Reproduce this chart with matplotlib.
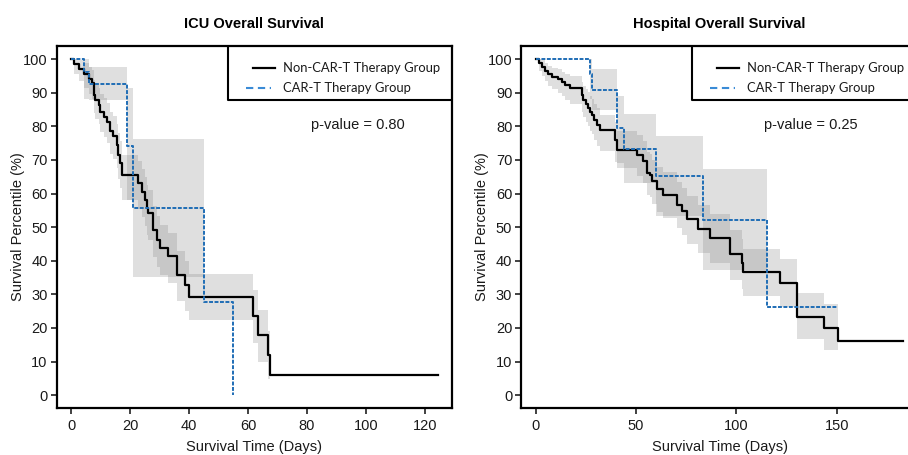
import matplotlib
matplotlib.use("Agg")
import matplotlib.pyplot as plt

# ICU survival, non-CAR-T group (days, % surviving, lower / upper band)
icu_t = [0, 1.0, 2.5, 4.5, 6.0, 7.0, 7.6, 8.1, 9.3, 9.8, 11.0, 12.1, 13.2, 14.3, 15.5, 16.0, 16.6, 17.2,
         22.8, 24.0, 25.1, 25.7, 26.2, 27.9, 29.0, 30.2, 33.0, 35.8, 38.6, 39.8, 61.8, 63.5, 66.9, 67.5]
icu_s = [100, 98.5, 97.1, 95.6, 94.1, 92.9, 89.4, 87.9, 86.4, 84.4, 82.9, 81.4, 78.5, 77.0, 74.5, 71.5, 69.0, 65.6,
         63.1, 60.6, 58.1, 55.7, 54.2, 49.2, 46.2, 43.7, 41.3, 35.8, 32.8, 29.3, 23.6, 17.9, 12.0, 6.0]
icu_lo = [100, 95.6, 93.5, 91.5, 89.5, 88.0, 84.0, 82.3, 80.6, 78.4, 76.7, 75.0, 71.9, 70.2, 67.5, 64.3, 61.7, 58.2,
          55.5, 52.9, 50.3, 47.8, 46.2, 41.2, 38.2, 35.7, 33.3, 28.0, 25.2, 22.3, 15.5, 10.0, 4.8, 6.0]
icu_hi = [100, 100, 99.7, 98.8, 97.6, 96.7, 93.8, 92.6, 91.3, 89.6, 88.3, 87.0, 84.3, 83.0, 80.7, 78.0, 75.6, 71.5,
          69.7, 67.3, 64.9, 62.6, 61.1, 56.2, 53.2, 50.7, 48.3, 42.8, 39.8, 36.0, 31.3, 25.4, 19.0, 6.0]
icu_end = 124.5

# ICU survival, CAR-T group
icu_car_t = [0, 4.2, 6.2, 18.9, 20.9, 45.0, 54.8]
icu_car_s = [100, 96.3, 92.6, 74.1, 55.6, 27.8, 0]
icu_car_lo = [100, 88.0, 87.9, 58.0, 35.1, 27.8, 0]
icu_car_hi = [100, 100, 97.8, 91.4, 76.2, 27.8, 0]

# hospital survival, non-CAR-T group
hos_t = [0, 1.5, 3.0, 4.5, 6.0, 8.0, 11.3, 13.0, 14.6, 17.1, 22.9, 23.7, 25.1, 26.2, 27.1, 27.9, 29.0, 30.4, 32.0,
         39.5, 40.4, 50.7, 53.6, 55.3, 57.0, 57.8, 60.3, 63.6, 70.3, 72.7, 75.2, 81.0, 86.8, 96.8, 102.6, 103.4,
         121.8, 130.4, 143.7, 150.7]
hos_s = [100, 98.9, 97.8, 96.6, 95.5, 94.8, 94.0, 93.1, 92.3, 91.3, 89.3, 87.8, 86.6, 85.6, 84.3, 83.3, 81.8, 80.3,
         78.8, 75.8, 73.0, 71.6, 69.6, 66.1, 65.6, 63.6, 61.4, 59.7, 56.7, 54.7, 52.3, 49.5, 46.8, 41.9, 39.2, 36.6,
         33.3, 23.4, 20.0, 16.0]
hos_lo = [100, 96.6, 95.0, 93.4, 92.0, 91.0, 90.0, 88.9, 87.9, 86.7, 84.4, 82.7, 81.3, 80.2, 78.7, 77.6, 76.0, 74.3,
          72.6, 69.5, 67.5, 65.3, 63.2, 59.6, 59.0, 56.9, 54.6, 52.8, 49.7, 47.6, 45.1, 42.2, 39.4, 34.4, 31.7, 29.5,
          26.3, 16.6, 13.4, 16.0]
hos_hi = [100, 100, 99.6, 98.8, 98.0, 97.5, 97.0, 96.3, 95.7, 94.9, 93.3, 92.0, 91.0, 90.1, 89.0, 88.1, 86.8, 85.5,
          83.5, 81.3, 78.5, 77.4, 75.6, 72.4, 71.9, 70.1, 68.0, 66.4, 63.5, 61.6, 59.3, 56.5, 53.9, 49.2, 46.5, 43.4,
          40.6, 30.5, 27.0, 16.0]
hos_end = 182.9

# hospital survival, CAR-T group
hos_car_t = [0, 27.1, 27.9, 40.7, 44.0, 60.1, 83.1, 115.4]
hos_car_s = [100, 95.5, 90.9, 79.5, 73.3, 65.2, 52.2, 26.1]
hos_car_lo = [100, 88.0, 85.0, 69.0, 63.2, 53.3, 37.4, 26.1]
hos_car_hi = [100, 100, 97.0, 88.9, 83.7, 77.2, 67.3, 26.1]
hos_car_end = 150

labels = ["Non-CAR-T Therapy Group", "CAR-T Therapy Group"]
titles = ["ICU Overall Survival", "Hospital Overall Survival"]
pvals = ["p-value = 0.80", "p-value = 0.25"]

BLUE = "#1f6db5"
FONT = "Liberation Sans"

W, H = 908, 455
fig = plt.figure(figsize=(W / 100, H / 100), dpi=100)


def px_axes(left, top, right, bottom):
    return fig.add_axes([left / W, 1 - bottom / H, (right - left) / W, (bottom - top) / H])


def curve(ax, t, s, lo, hi, end, **kw):
    tt = list(t) + ([end] if end is not None else [])
    ss = list(s) + ([s[-1]] if end is not None else [])
    ll = list(lo) + ([lo[-1]] if end is not None else [])
    hh = list(hi) + ([hi[-1]] if end is not None else [])
    ax.fill_between(tt, ll, hh, step="post", color="#808080", alpha=0.25, lw=0, zorder=1)
    ax.plot(tt, ss, drawstyle="steps-post", zorder=3, **kw)


def legend_box(ax, box_l, ax_w):
    # hand-drawn legend: frame on the left and bottom only, sharing the axes top/right
    f = lambda px: box_l + px / ax_w
    ax.plot([box_l, box_l, 1], [1, 0.8503, 0.8503], transform=ax.transAxes, color="black",
            lw=1.5, clip_on=False, zorder=5, solid_capstyle="butt")
    ax.plot([f(25), f(47)], [0.9376, 0.9376], transform=ax.transAxes, color="black", lw=1.6, zorder=5)
    ax.plot([f(18), f(43)], [0.8842, 0.8842], transform=ax.transAxes, color="#3a8bd6", lw=1.5,
            dashes=(3.5, 2.2), zorder=5)
    for yy, lab in zip([0.9376, 0.8842], labels):
        ax.text(f(55), yy, lab, transform=ax.transAxes, va="center", ha="left",
                family="Lato", fontsize=9.4, color="#1a1a1a")


def style(ax, xlim, xticks, xlabel_x, ylabel_x):
    ax.set_xlim(*xlim)
    ax.set_ylim(-3.9, 104.0)
    ax.set_xticks(xticks)
    ax.set_yticks(range(0, 101, 10))
    for sp in ax.spines.values():
        sp.set_linewidth(1.6)
        sp.set_color("black")
    ax.tick_params(direction="out", length=4.5, width=1.3, color="#333333", labelsize=10.5,
                   labelcolor="#1a1a1a", pad=2)
    ax.tick_params(axis="x", pad=3.5)
    for lab in ax.get_xticklabels() + ax.get_yticklabels():
        lab.set_family(FONT)
    ax.set_xlabel("Survival Time (Days)", family=FONT, fontsize=10.5, color="#1a1a1a", va="center")
    ax.xaxis.set_label_coords(xlabel_x, -0.106)
    ax.set_ylabel("Survival Percentile (%)", family=FONT, fontsize=10.5, color="#1a1a1a", va="center")
    ax.yaxis.set_label_coords(ylabel_x, 0.5)


# ICU panel
ax1 = px_axes(56.7, 45.7, 451.7, 408.3)
curve(ax1, icu_t, icu_s, icu_lo, icu_hi, icu_end, color="black", lw=1.6)
curve(ax1, icu_car_t, icu_car_s, icu_car_lo, icu_car_hi, None, color=BLUE, lw=1.4, dashes=(2.0, 0.8))
style(ax1, (-4.9, 129.05), range(0, 121, 20), 0.5, -0.097)
ax1.text(0.5, 1.06, titles[0], transform=ax1.transAxes, ha="center", va="center",
         family=FONT, fontsize=10.5, fontweight="bold")
ax1.text(0.763, 0.780, pvals[0], transform=ax1.transAxes, ha="center", va="center",
         family=FONT, fontsize=10.5, color="#1a1a1a")
legend_box(ax1, 0.4344, 395.0)

# hospital panel (right edge runs past the picture, as in the source)
ax2 = px_axes(521.3, 45.7, 913.0, 408.3)
curve(ax2, hos_t, hos_s, hos_lo, hos_hi, hos_end, color="black", lw=1.6)
curve(ax2, hos_car_t, hos_car_s, hos_car_lo, hos_car_hi, hos_car_end, color=BLUE, lw=1.4, dashes=(2.0, 0.8))
style(ax2, (-7.2, 188.0), [0, 50, 100, 150], 0.506, -0.0996)
ax2.text(0.5055, 1.06, titles[1], transform=ax2.transAxes, ha="center", va="center",
         family=FONT, fontsize=10.5, fontweight="bold")
ax2.text(0.7396, 0.780, pvals[1], transform=ax2.transAxes, ha="center", va="center",
         family=FONT, fontsize=10.5, color="#1a1a1a")
legend_box(ax2, 0.4366, 391.7)

fig.savefig("out.png", dpi=100)
